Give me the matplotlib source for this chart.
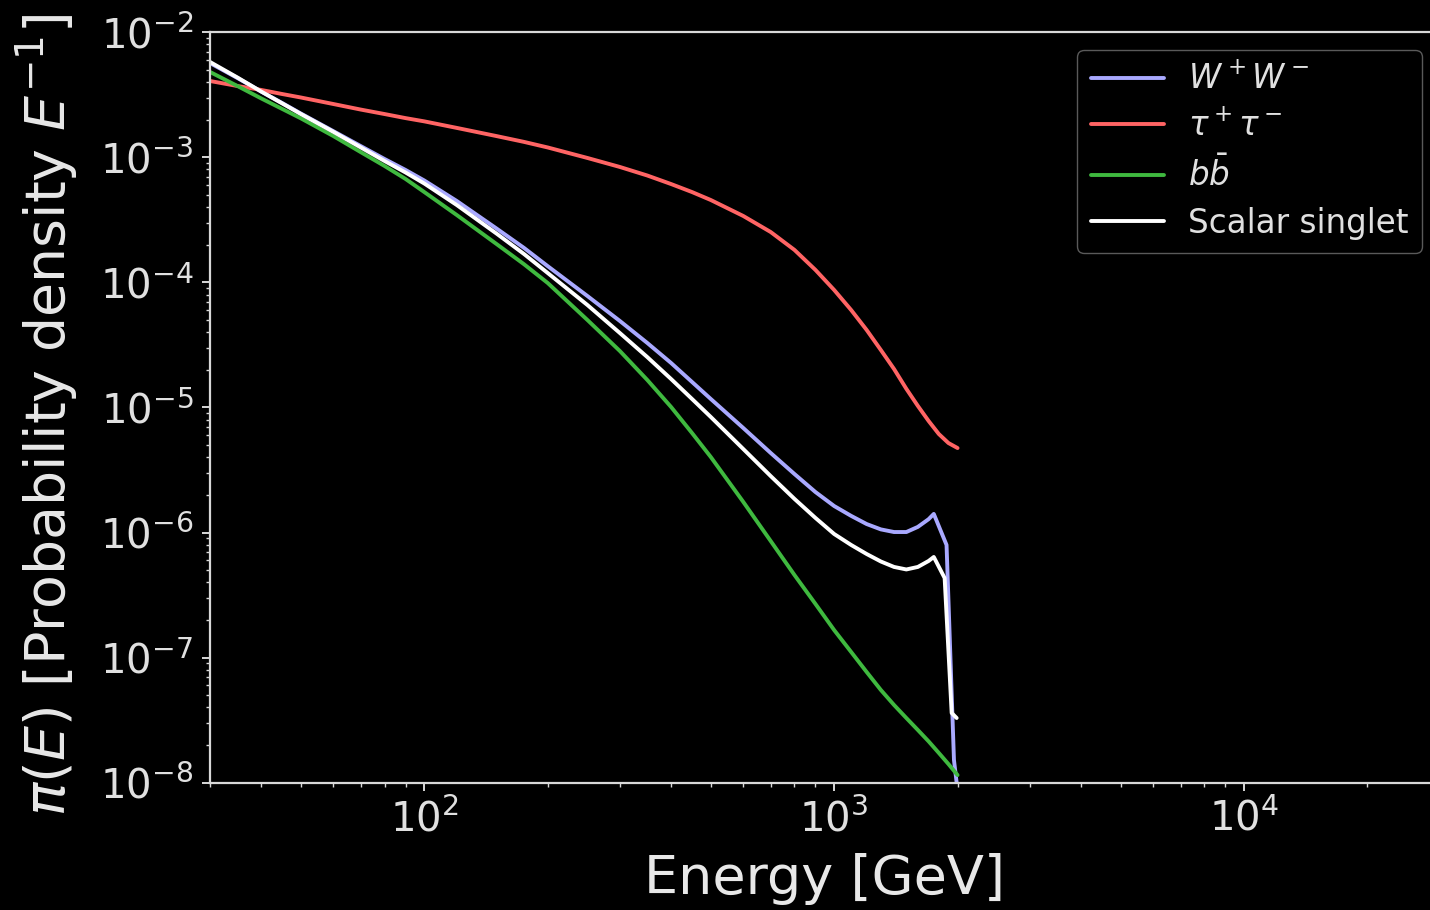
import matplotlib
matplotlib.use("Agg")
import matplotlib.pyplot as plt

plt.style.use("dark_background")

# Energy grid [GeV] shared by the tau and b-bbar channels
energy = [30, 35, 40, 45, 50, 60, 70, 80, 90, 100, 120, 150, 175, 200, 250,
          300, 350, 400, 450, 500, 600, 700, 800, 900, 1000, 1100, 1200,
          1300, 1400, 1500, 1600, 1700, 1800, 1900, 2000]

# tau+ tau- channel
tau_pdf = [4.08e-3, 3.72e-3, 3.46e-3, 3.21e-3, 3.01e-3, 2.67e-3, 2.41e-3,
           2.22e-3, 2.06e-3, 1.94e-3, 1.72e-3, 1.48e-3, 1.33e-3, 1.20e-3,
           9.89e-4, 8.38e-4, 7.16e-4, 6.12e-4, 5.28e-4, 4.56e-4, 3.40e-4,
           2.53e-4, 1.82e-4, 1.26e-4, 8.70e-5, 6.02e-5, 4.17e-5, 2.88e-5,
           2.03e-5, 1.41e-5, 1.03e-5, 7.80e-6, 6.14e-6, 5.20e-6, 4.74e-6]

# b b-bar channel
bb_pdf = [4.82e-3, 3.72e-3, 2.96e-3, 2.44e-3, 2.05e-3, 1.48e-3, 1.10e-3,
          8.53e-4, 6.72e-4, 5.28e-4, 3.46e-4, 2.03e-4, 1.40e-4, 9.90e-5,
          5.01e-5, 2.83e-5, 1.66e-5, 1.01e-5, 6.25e-6, 4.02e-6, 1.76e-6,
          8.56e-7, 4.58e-7, 2.69e-7, 1.66e-7, 1.11e-7, 7.68e-8, 5.51e-8,
          4.18e-8, 3.29e-8, 2.64e-8, 2.14e-8, 1.73e-8, 1.41e-8, 1.15e-8]

# W+ W- channel (finer sampling near the kinematic edge)
ww_energy = [30, 35, 40, 45, 50, 60, 70, 80, 90, 100, 120, 150, 175, 200,
             250, 300, 350, 400, 450, 500, 600, 700, 800, 900, 1000, 1100,
             1200, 1300, 1400, 1500, 1600, 1700, 1750, 1880, 1960, 2000]
ww_pdf = [5.68e-3, 4.31e-3, 3.36e-3, 2.72e-3, 2.24e-3, 1.62e-3, 1.23e-3,
          9.70e-4, 7.93e-4, 6.53e-4, 4.48e-4, 2.70e-4, 1.89e-4, 1.35e-4,
          7.79e-5, 4.92e-5, 3.28e-5, 2.27e-5, 1.60e-5, 1.17e-5, 6.86e-6,
          4.33e-6, 2.94e-6, 2.11e-6, 1.63e-6, 1.36e-6, 1.17e-6, 1.06e-6,
          1.01e-6, 1.01e-6, 1.11e-6, 1.28e-6, 1.41e-6, 7.96e-7, 1.52e-8,
          8.7e-9]

# Scalar singlet model
ss_energy = [30, 35, 40, 45, 50, 60, 70, 80, 90, 100, 120, 150, 175, 200,
             250, 300, 350, 400, 450, 500, 600, 700, 800, 900, 1000, 1100,
             1200, 1300, 1400, 1500, 1600, 1700, 1750, 1860, 1935, 1990]
ss_pdf = [5.79e-3, 4.35e-3, 3.36e-3, 2.70e-3, 2.22e-3, 1.60e-3, 1.20e-3,
          9.35e-4, 7.57e-4, 6.18e-4, 4.16e-4, 2.46e-4, 1.69e-4, 1.19e-4,
          6.60e-5, 3.94e-5, 2.53e-5, 1.69e-5, 1.17e-5, 8.40e-6, 4.66e-6,
          2.83e-6, 1.86e-6, 1.31e-6, 9.74e-7, 7.96e-7, 6.74e-7, 5.87e-7,
          5.31e-7, 5.07e-7, 5.31e-7, 5.93e-7, 6.38e-7, 4.33e-7, 3.61e-8,
          3.29e-8]

fig = plt.figure(figsize=(14.3, 9.1), dpi=100, facecolor="black")
ax = fig.add_axes([0.14685, 0.13989, 0.85986, 0.82462])
ax.set_facecolor("black")

style = dict(lw=2.8, solid_joinstyle="round", solid_capstyle="round")
ax.plot(ww_energy, ww_pdf, color="#a9a9ff", label=r"$W^+W^-$", **style)
ax.plot(energy, tau_pdf, color="#ff6464", label=r"$\tau^+\tau^-$", **style)
ax.plot(energy, bb_pdf, color="#3fb93f", label=r"$b\bar{b}$", **style)
ax.plot(ss_energy, ss_pdf, color="white", label="Scalar singlet", **style)

ax.set_xscale("log")
ax.set_yscale("log")
ax.set_xlim(30, 3e4)
ax.set_ylim(1e-8, 1e-2)

for side in ax.spines.values():
    side.set_color("#d8d8d8")
    side.set_linewidth(1.6)

ax.tick_params(which="major", length=6, width=1.4, colors="#d8d8d8",
               labelsize=29, pad=6, labelcolor="#e0e0e0")
ax.tick_params(which="minor", length=3, width=1.0, colors="#d8d8d8")

ax.set_xlabel("Energy [GeV]", fontsize=39, color="#e8e8e8", labelpad=9)
ax.set_ylabel(r"$\pi(E)$ [Probability density $E^{-1}$]", fontsize=40,
              color="#e8e8e8")
ax.yaxis.set_label_coords(-0.106, 0.49)

leg = ax.legend(loc="upper right", bbox_to_anchor=(0.9944, 0.945),
                bbox_transform=fig.transFigure, borderaxespad=0,
                fontsize=23.5, handlelength=2.25, handletextpad=0.75,
                labelspacing=0.42, frameon=True, fancybox=True,
                facecolor="black", edgecolor="#5a5a5a", framealpha=1.0)
for txt in leg.get_texts():
    txt.set_color("#e0e0e0")

fig.savefig("out.png", dpi=100, facecolor="black")
